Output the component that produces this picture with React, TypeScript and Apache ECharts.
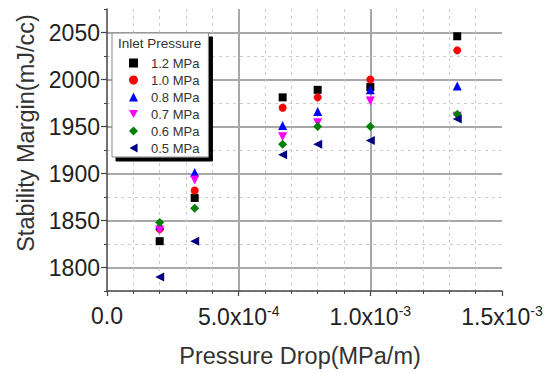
import React, { useEffect, useRef } from 'react';
import * as echarts from 'echarts';

const xValues = [2.0e-4, 3.33e-4, 6.67e-4, 8.0e-4, 1.0e-3, 1.33e-3];
const seriesNames = ['1.2 MPa', '1.0 MPa', '0.8 MPa', '0.7 MPa', '0.6 MPa', '0.5 MPa'];
const p12 = [1828, 1874, 1981, 1989, 1992, 2046];
const p10 = [1841, 1882, 1970, 1981, 2000, 2031];
const p08 = [1845, 1901, 1951, 1966, 1989, 1993];
const p07 = [1840, 1893, 1939, 1954, 1977, 1961];
const p06 = [1848, 1863, 1931, 1950, 1950, 1963];
const p05 = [1790, 1828, 1920, 1931, 1935, 1958];
const yTickValues = [1800, 1850, 1900, 1950, 2000, 2050];
const xTickLabels = ['0.0', '5.0x10{sup|-4}', '1.0x10{sup|-3}', '1.5x10{sup|-3}'];

const FONT = 'Liberation Sans, Arial, sans-serif';

export default function App() {
  const ref = useRef<HTMLDivElement>(null);
  useEffect(() => {
    if (!ref.current) return;
    const chart = echarts.init(ref.current, null, { renderer: 'svg' });
    const allY = [p12, p10, p08, p07, p06, p05];
    const colors = ['#000000', '#ff0000', '#0000ff', '#ff00ff', '#008000', '#000080'];
    const symbols = [
      'rect',
      'circle',
      'triangle',
      'path://M0,0 L10,0 L5,9 Z',
      'diamond',
      'path://M10,0 L10,10 L1,5 Z',
    ];
    const sizes = [8, 8, 9, 9, 9, 9];
    const series = allY.map((ys, i) => ({
      name: seriesNames[i],
      type: 'scatter',
      xAxisIndex: 0,
      yAxisIndex: 1,
      symbol: symbols[i],
      symbolSize: sizes[i],
      itemStyle: { color: colors[i], opacity: 1 },
      data: xValues.map((x, j) => [x, ys[j]]),
      z: 10 + i,
    }));
    chart.setOption({
      animation: false,
      backgroundColor: '#ffffff',
      grid: { left: 107, right: 49, top: 9, bottom: 73, containLabel: false },
      xAxis: {
        type: 'value',
        min: 0,
        max: 1.5e-3,
        interval: 5e-4,
        name: 'Pressure Drop(MPa/m)',
        nameLocation: 'middle',
        nameGap: 53,
        nameTextStyle: { fontFamily: FONT, fontSize: 23.5, color: '#333', padding: [0, 9, 0, 0] },
        axisLine: { show: true, lineStyle: { color: '#444', width: 1.5 } },
        axisTick: { show: true, length: 5, lineStyle: { color: '#444', width: 1.2 } },
        minorTick: { show: true, splitNumber: 5, length: 3, lineStyle: { color: '#444', width: 1 } },
        splitLine: { show: true, showMinLine: false, showMaxLine: false, lineStyle: { color: '#a8a8a8', width: 2 } },
        minorSplitLine: { show: true, lineStyle: { color: '#cccccc', width: 1, type: [3, 4] } },
        axisLabel: {
          fontFamily: FONT,
          fontSize: 23,
          color: '#222',
          margin: 13,
          formatter: (_v: number, i: number) => xTickLabels[i] ?? '',
          rich: {
            sup: { fontFamily: FONT, fontSize: 14, color: '#222', verticalAlign: 'top', padding: [0, 0, 12, 0] },
          },
        },
      },
      yAxis: [
        {
          type: 'value',
          min: 1775,
          max: 2075,
          interval: 25,
          position: 'left',
          axisLine: { show: false },
          axisTick: { show: true, length: 3, lineStyle: { color: '#444', width: 1 } },
          axisLabel: { show: false },
          splitLine: { show: true, showMaxLine: false, lineStyle: { color: '#cccccc', width: 1, type: [3, 4] } },
        },
        {
          type: 'value',
          min: 1775,
          max: 2075,
          interval: 25,
          position: 'left',
          name: 'Stability Margin(mJ/cc)',
          nameLocation: 'middle',
          nameGap: 66,
          nameTextStyle: { fontFamily: FONT, fontSize: 23.5, color: '#333', padding: [0, 0, 0, 34] },
          axisLine: { show: true, lineStyle: { color: '#444', width: 1.5 } },
          axisTick: { show: true, length: 6, customValues: yTickValues, lineStyle: { color: '#444', width: 1.2 } },
          axisLabel: {
            fontFamily: FONT,
            fontSize: 23,
            color: '#222',
            margin: 7,
            customValues: yTickValues,
            formatter: (v: number) => String(Math.round(v)),
          },
          splitLine: { show: true, lineStyle: { color: '#a8a8a8', width: 2 } },
        },
      ],
      legend: {
        orient: 'vertical',
        left: 112,
        top: 33,
        data: seriesNames,
        backgroundColor: '#ffffff',
        borderColor: '#888',
        borderWidth: 1,
        shadowColor: '#000000',
        shadowBlur: 0,
        shadowOffsetX: 4,
        shadowOffsetY: 4,
        padding: [23, 9, 2, 17],
        itemGap: 3,
        itemWidth: 9,
        itemHeight: 9,
        selectedMode: false,
        textStyle: { fontFamily: FONT, fontSize: 13, color: '#333', lineHeight: 14, padding: [0, 0, 0, 8] },
      },
      graphic: [
        {
          type: 'text',
          left: 118,
          top: 36,
          z: 100,
          style: { text: 'Inlet Pressure', fontFamily: FONT, fontSize: 13.5, fill: '#333' },
        },
      ],
      series,
    });
    return () => chart.dispose();
  }, []);
  return <div ref={ref} style={{ width: 551, height: 373, position: 'absolute', left: 0, top: 0 }} />;
}
